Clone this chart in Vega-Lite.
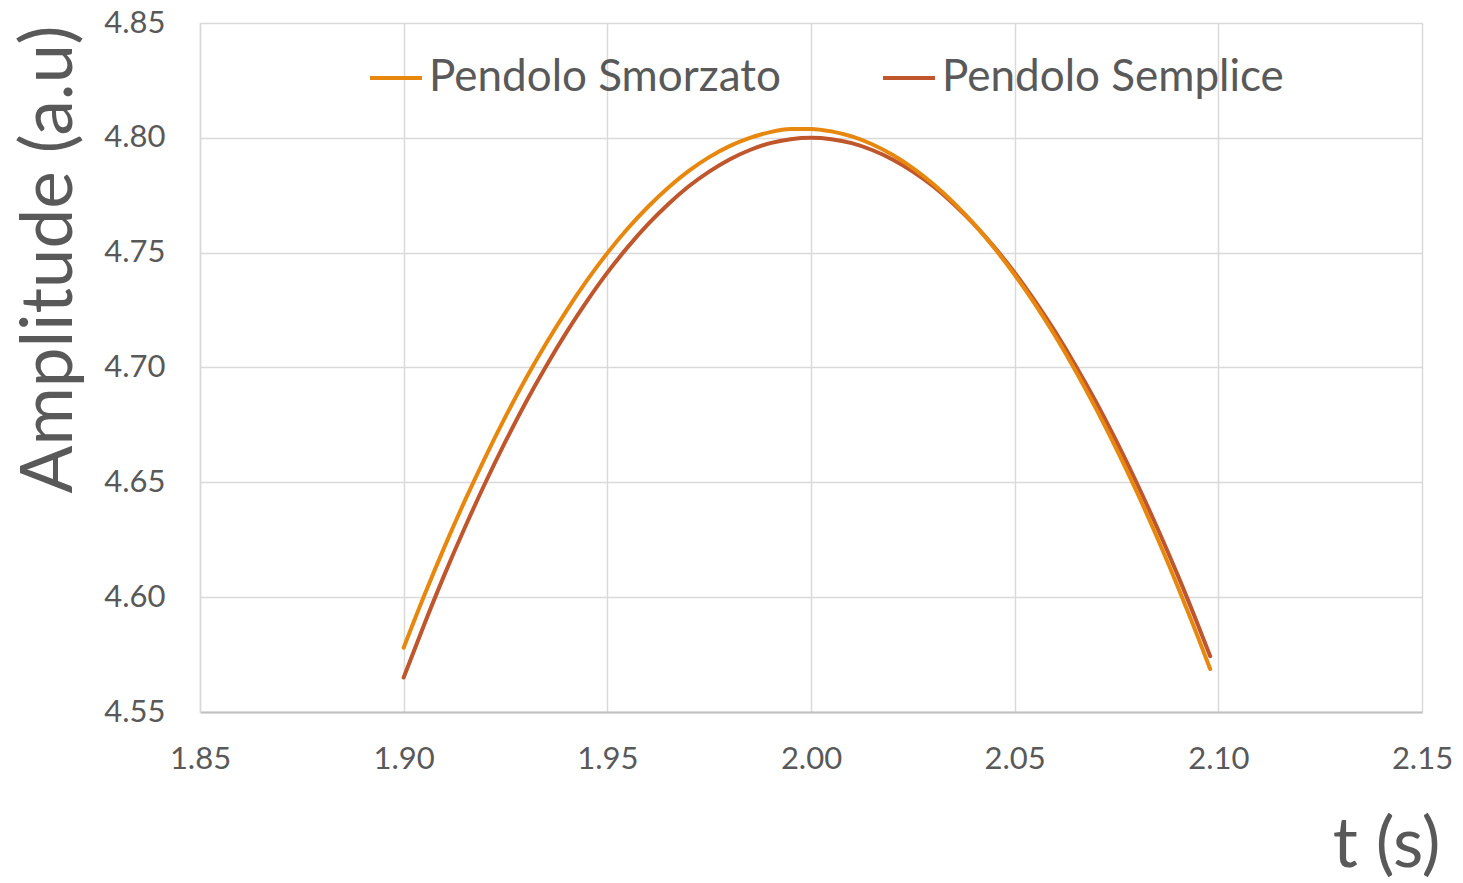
{
  "$schema": "https://vega.github.io/schema/vega-lite/v6.json",
  "width": 1222,
  "height": 689,
  "autosize": {"type": "none"},
  "padding": {"left": 200, "top": 23, "right": 41, "bottom": 171},
  "background": "white",
  "config": {
    "view": {"stroke": null},
    "font": "Lato",
    "axis": {"labelFont": "Lato", "titleFont": "Lato", "labelColor": "#595959", "titleColor": "#595959", "titleFontWeight": "normal"}
  },
  "datasets": {
    "curves": [
      {"series": "Pendolo Semplice", "t": 1.900, "amp": 4.5650},
      {"series": "Pendolo Semplice", "t": 1.905, "amp": 4.5879},
      {"series": "Pendolo Semplice", "t": 1.910, "amp": 4.6097},
      {"series": "Pendolo Semplice", "t": 1.915, "amp": 4.6302},
      {"series": "Pendolo Semplice", "t": 1.920, "amp": 4.6496},
      {"series": "Pendolo Semplice", "t": 1.925, "amp": 4.6678},
      {"series": "Pendolo Semplice", "t": 1.930, "amp": 4.6849},
      {"series": "Pendolo Semplice", "t": 1.935, "amp": 4.7007},
      {"series": "Pendolo Semplice", "t": 1.940, "amp": 4.7154},
      {"series": "Pendolo Semplice", "t": 1.945, "amp": 4.7289},
      {"series": "Pendolo Semplice", "t": 1.950, "amp": 4.7413},
      {"series": "Pendolo Semplice", "t": 1.955, "amp": 4.7524},
      {"series": "Pendolo Semplice", "t": 1.960, "amp": 4.7624},
      {"series": "Pendolo Semplice", "t": 1.965, "amp": 4.7712},
      {"series": "Pendolo Semplice", "t": 1.970, "amp": 4.7789},
      {"series": "Pendolo Semplice", "t": 1.975, "amp": 4.7853},
      {"series": "Pendolo Semplice", "t": 1.980, "amp": 4.7906},
      {"series": "Pendolo Semplice", "t": 1.985, "amp": 4.7947},
      {"series": "Pendolo Semplice", "t": 1.990, "amp": 4.7977},
      {"series": "Pendolo Semplice", "t": 1.995, "amp": 4.7994},
      {"series": "Pendolo Semplice", "t": 2.000, "amp": 4.8000},
      {"series": "Pendolo Semplice", "t": 2.005, "amp": 4.7994},
      {"series": "Pendolo Semplice", "t": 2.010, "amp": 4.7977},
      {"series": "Pendolo Semplice", "t": 2.015, "amp": 4.7947},
      {"series": "Pendolo Semplice", "t": 2.020, "amp": 4.7906},
      {"series": "Pendolo Semplice", "t": 2.025, "amp": 4.7853},
      {"series": "Pendolo Semplice", "t": 2.030, "amp": 4.7789},
      {"series": "Pendolo Semplice", "t": 2.035, "amp": 4.7712},
      {"series": "Pendolo Semplice", "t": 2.040, "amp": 4.7624},
      {"series": "Pendolo Semplice", "t": 2.045, "amp": 4.7524},
      {"series": "Pendolo Semplice", "t": 2.050, "amp": 4.7413},
      {"series": "Pendolo Semplice", "t": 2.055, "amp": 4.7289},
      {"series": "Pendolo Semplice", "t": 2.060, "amp": 4.7154},
      {"series": "Pendolo Semplice", "t": 2.065, "amp": 4.7007},
      {"series": "Pendolo Semplice", "t": 2.070, "amp": 4.6849},
      {"series": "Pendolo Semplice", "t": 2.075, "amp": 4.6678},
      {"series": "Pendolo Semplice", "t": 2.080, "amp": 4.6496},
      {"series": "Pendolo Semplice", "t": 2.085, "amp": 4.6302},
      {"series": "Pendolo Semplice", "t": 2.090, "amp": 4.6097},
      {"series": "Pendolo Semplice", "t": 2.095, "amp": 4.5879},
      {"series": "Pendolo Semplice", "t": 2.098, "amp": 4.5743},
      {"series": "Pendolo Smorzato", "t": 1.900, "amp": 4.5780},
      {"series": "Pendolo Smorzato", "t": 1.905, "amp": 4.6005},
      {"series": "Pendolo Smorzato", "t": 1.910, "amp": 4.6218},
      {"series": "Pendolo Smorzato", "t": 1.915, "amp": 4.6419},
      {"series": "Pendolo Smorzato", "t": 1.920, "amp": 4.6608},
      {"series": "Pendolo Smorzato", "t": 1.925, "amp": 4.6786},
      {"series": "Pendolo Smorzato", "t": 1.930, "amp": 4.6952},
      {"series": "Pendolo Smorzato", "t": 1.935, "amp": 4.7106},
      {"series": "Pendolo Smorzato", "t": 1.940, "amp": 4.7248},
      {"series": "Pendolo Smorzato", "t": 1.945, "amp": 4.7379},
      {"series": "Pendolo Smorzato", "t": 1.950, "amp": 4.7498},
      {"series": "Pendolo Smorzato", "t": 1.955, "amp": 4.7605},
      {"series": "Pendolo Smorzato", "t": 1.960, "amp": 4.7700},
      {"series": "Pendolo Smorzato", "t": 1.965, "amp": 4.7784},
      {"series": "Pendolo Smorzato", "t": 1.970, "amp": 4.7856},
      {"series": "Pendolo Smorzato", "t": 1.975, "amp": 4.7916},
      {"series": "Pendolo Smorzato", "t": 1.980, "amp": 4.7964},
      {"series": "Pendolo Smorzato", "t": 1.985, "amp": 4.8000},
      {"series": "Pendolo Smorzato", "t": 1.990, "amp": 4.8025},
      {"series": "Pendolo Smorzato", "t": 1.995, "amp": 4.8038},
      {"series": "Pendolo Smorzato", "t": 2.000, "amp": 4.8039},
      {"series": "Pendolo Smorzato", "t": 2.005, "amp": 4.8028},
      {"series": "Pendolo Smorzato", "t": 2.010, "amp": 4.8006},
      {"series": "Pendolo Smorzato", "t": 2.015, "amp": 4.7972},
      {"series": "Pendolo Smorzato", "t": 2.020, "amp": 4.7926},
      {"series": "Pendolo Smorzato", "t": 2.025, "amp": 4.7868},
      {"series": "Pendolo Smorzato", "t": 2.030, "amp": 4.7799},
      {"series": "Pendolo Smorzato", "t": 2.035, "amp": 4.7718},
      {"series": "Pendolo Smorzato", "t": 2.040, "amp": 4.7625},
      {"series": "Pendolo Smorzato", "t": 2.045, "amp": 4.7520},
      {"series": "Pendolo Smorzato", "t": 2.050, "amp": 4.7404},
      {"series": "Pendolo Smorzato", "t": 2.055, "amp": 4.7276},
      {"series": "Pendolo Smorzato", "t": 2.060, "amp": 4.7136},
      {"series": "Pendolo Smorzato", "t": 2.065, "amp": 4.6984},
      {"series": "Pendolo Smorzato", "t": 2.070, "amp": 4.6820},
      {"series": "Pendolo Smorzato", "t": 2.075, "amp": 4.6645},
      {"series": "Pendolo Smorzato", "t": 2.080, "amp": 4.6458},
      {"series": "Pendolo Smorzato", "t": 2.085, "amp": 4.6259},
      {"series": "Pendolo Smorzato", "t": 2.090, "amp": 4.6048},
      {"series": "Pendolo Smorzato", "t": 2.095, "amp": 4.5826},
      {"series": "Pendolo Smorzato", "t": 2.098, "amp": 4.5687}
    ]
  },
  "data": {"name": "curves"},
  "mark": {"type": "line", "strokeWidth": 4, "interpolate": "monotone", "strokeCap": "round"},
  "encoding": {
    "x": {
      "field": "t", "type": "quantitative",
      "scale": {"domain": [1.85, 2.15], "nice": false, "zero": false},
      "axis": {
        "title": "t (s)", "values": [1.85, 1.9, 1.95, 2.0, 2.05, 2.1, 2.15], "format": ".2f",
        "labelFontSize": 31, "labelPadding": 32, "ticks": false, "labelFlush": false,
        "domainColor": "#bfbfbf", "domainWidth": 2,
        "grid": true, "gridColor": "#d9d9d9", "gridWidth": 1.5,
        "titleFontSize": 70, "titleX": 1240, "titleY": 154, "titleAlign": "right", "titleBaseline": "alphabetic", "titleAnchor": null
      }
    },
    "y": {
      "field": "amp", "type": "quantitative",
      "scale": {"domain": [4.55, 4.85], "nice": false, "zero": false},
      "axis": {
        "title": "Amplitude (a.u)", "values": [4.55, 4.6, 4.65, 4.7, 4.75, 4.8, 4.85], "format": ".2f",
        "labelFontSize": 31, "labelPadding": 35, "ticks": false, "labelFlush": false,
        "domainColor": "#d9d9d9", "domainWidth": 1.5,
        "grid": true, "gridColor": "#d9d9d9", "gridWidth": 1.5,
        "titleFontSize": 71, "titleAngle": -90, "titleX": -129, "titleY": 2, "titleAlign": "right", "titleBaseline": "alphabetic"
      }
    },
    "color": {
      "field": "series", "type": "nominal",
      "scale": {"domain": ["Pendolo Smorzato", "Pendolo Semplice"], "range": ["#E8870E", "#C0562C"]},
      "legend": {
        "title": null, "orient": "none", "legendX": 168, "legendY": 27, "direction": "horizontal",
        "symbolType": "stroke", "symbolSize": 2700, "symbolStrokeWidth": 4,
        "labelFontSize": 44, "labelColor": "#595959", "labelFont": "Lato", "labelOffset": 5,
        "columnPadding": 94, "labelLimit": 500
      }
    }
  }
}
